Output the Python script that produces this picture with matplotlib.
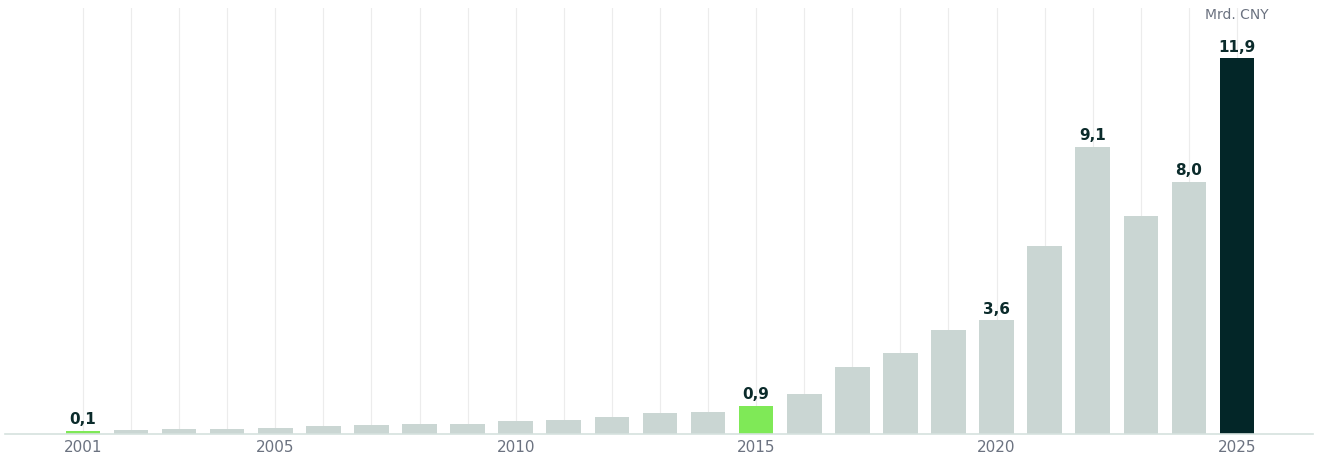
import matplotlib
matplotlib.use("Agg")
import matplotlib.pyplot as plt

# Werte in Mrd. CNY
years = list(range(2001, 2026))
values = [0.1, 0.13, 0.16, 0.16, 0.19, 0.25, 0.29, 0.32, 0.32, 0.41,
          0.44, 0.54, 0.67, 0.70, 0.9, 1.27, 2.13, 2.57, 3.30, 3.6,
          5.97, 9.1, 6.92, 8.0, 11.9]
label_years = [2001, 2015, 2020, 2022, 2024, 2025]
tick_years = [2001, 2005, 2010, 2015, 2020, 2025]

GRAY = "#cad6d3"
GREEN = "#7fe957"
DARK = "#032628"

colors = []
for y in years:
    if y in (2001, 2015):
        colors.append(GREEN)
    elif y == 2025:
        colors.append(DARK)
    else:
        colors.append(GRAY)

fig = plt.figure(figsize=(13.2, 4.59), dpi=100)
ax = fig.add_axes([5 / 1320, 25 / 459, 1308 / 1320, 426 / 459])

ax.bar(years, values, width=0.72, color=colors, zorder=2)

for y, v in zip(years, values):
    if y in label_years:
        ax.text(y, v + 0.12, f"{v:.1f}".replace(".", ","), ha="center", va="bottom",
                fontsize=11, fontweight="bold", color="#0b2b2b")

ax.text(2025, 13.28, "Mrd. CNY", ha="center", va="center", fontsize=10, color="#6b7280")

ax.set_xlim(1999.38, 2026.58)
ax.set_ylim(0, 13.5)
ax.set_xticks(years, minor=False)
ax.set_xticklabels([str(y) if y in tick_years else "" for y in years])
ax.tick_params(axis="x", length=0, labelsize=11, labelcolor="#6b7280", pad=4)
ax.set_yticks([])
ax.grid(axis="x", color="#ececec", linewidth=0.8, zorder=0)
for s in ["top", "right", "left"]:
    ax.spines[s].set_visible(False)
ax.spines["bottom"].set_color("#d5e2de")
ax.spines["bottom"].set_linewidth(1.2)

fig.savefig("out.png", dpi=100)
